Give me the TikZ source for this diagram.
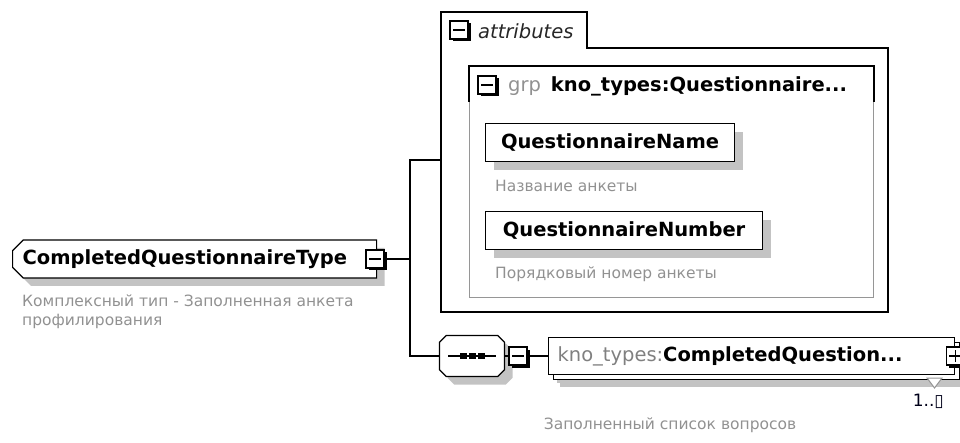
\documentclass[tikz,border=0pt]{standalone}
\usepackage{fontspec}
\setmainfont{DejaVu Sans}
\usetikzlibrary{shapes.misc,shadows,positioning}
\definecolor{nsgray}{RGB}{128,128,128}
\definecolor{descgray}{RGB}{145,145,145}
\definecolor{shadowgray}{RGB}{195,195,195}
\definecolor{boxgray}{RGB}{150,150,150}
\newcommand\namefont{\fontsize{19.5}{22}\selectfont\bfseries}
\newcommand\descfont{\fontsize{15.5}{19}\selectfont\color{descgray}}
\newcommand\minusline{[line width=1.2pt] ([xshift=3pt]path picture bounding box.west) -- ([xshift=-3pt]path picture bounding box.east)}
\newcommand\plusline{[line width=1.2pt] ([yshift=3pt]path picture bounding box.south) -- ([yshift=-3pt]path picture bounding box.north)}

\tikzset{
  elembox/.style={draw, line width=1.2pt, fill=white, font=\namefont, minimum height=38pt,
    drop shadow={shadow xshift=8pt, shadow yshift=-8pt, fill=shadowgray, opacity=1}},
  togglebox/.style={draw, line width=1.2pt, fill=white, minimum size=18pt, inner sep=0pt,
    drop shadow={shadow xshift=2.5pt, shadow yshift=-2.5pt, fill=black, opacity=1}},
  minusbox/.style={togglebox, path picture={\draw\minusline;}},
  plusbox/.style={togglebox, path picture={\draw\minusline; \draw\plusline;}},
  desc/.style={font=\descfont, anchor=west, align=left, inner sep=0pt},
  wire/.style={line width=1.2pt},
}

\begin{document}
\begin{tikzpicture}[x=1pt,y=-1pt]
  \useasboundingbox (0,0) rectangle (960,443);

  % complex type
  \node[elembox, chamfered rectangle, chamfered rectangle corners={north west,south west},
        chamfered rectangle xsep=7pt, inner xsep=2pt, minimum width=364pt, text width=344pt, anchor=west]
        (cqt) at (12,259) {CompletedQuestionnaireType};
  \node[minusbox] (cqtminus) at (375,259) {};
  \node[desc] (cqtdesc) at (22,312) {Комплексный тип - Заполненная анкета\\профилирования};

  % attributes
  \draw[line width=1.2pt] (441,312) -- (441,12) -- (587,12) -- (587,48) -- (888,48) -- (888,312) -- cycle;
  \coordinate (attrs) at (441,160);
  \node[minusbox] (attrminus) at (459,30) {};
  \node[anchor=west, font=\fontsize{19.5}{22}\selectfont\itshape, text=black!85, inner sep=0pt]
        (attrlabel) at (478,31) {attributes};

  % group
  \node[draw=boxgray, line width=1pt, minimum width=404pt, minimum height=231pt, anchor=north west]
        (grp) at (469,66) {};
  \draw[line width=1.2pt] ([yshift=-36pt]grp.north west) -- (grp.north west) -- (grp.north east) -- ([yshift=-36pt]grp.north east);
  \node[minusbox] (grpminus) at (487,85) {};
  \node[anchor=west, inner sep=0pt, font=\fontsize{19.5}{22}\selectfont] (grplabel) at (508,86)
        {\color{descgray}grp\hspace{10pt}\color{black}\bfseries kno\_types:Questionnaire...};

  \node[elembox, minimum width=249pt, anchor=north west] (qname) at (485,123) {QuestionnaireName};
  \node[desc] (qnamedesc) at (495,186) {Название анкеты};
  \node[elembox, minimum width=277pt, anchor=north west] (qnum) at (485,211) {QuestionnaireNumber};
  \node[desc] (qnumdesc) at (495,274) {Порядковый номер анкеты};

  % sequence
  \node[chamfered rectangle, chamfered rectangle xsep=8pt, draw, line width=1.2pt, fill=white,
        minimum width=65pt, minimum height=41pt,
        drop shadow={shadow xshift=8pt, shadow yshift=-8pt, fill=shadowgray, opacity=1}]
        (seq) at (472,356) {};
  \draw[line width=1.2pt] ([xshift=-24pt]seq.center) -- ([xshift=24pt]seq.center);
  \foreach \dx in {-9,0,9}
    \fill ([xshift=\dx pt]seq.center) +(-3.5pt,-3pt) rectangle +(3.5pt,3pt);
  \node[minusbox] (seqminus) at (518,356) {};

  % element list
  \node[elembox, minimum width=406pt, minimum height=37pt, text width=388pt, anchor=west,
        drop shadow={shadow xshift=11pt, shadow yshift=-12pt, fill=shadowgray, opacity=1},
        copy shadow={shadow xshift=5pt, shadow yshift=-5pt}]
        (cqlist) at (548,356) {{\color{nsgray}\mdseries kno\_types:}CompletedQuestion...};
  \node[plusbox] (cqplus) at (cqlist.east) {};
  \draw[draw=boxgray, fill=white, line width=1pt] (927,378) -- (942,378) -- (934.5,388) -- cycle;
  \node[anchor=east, inner sep=0pt, font=\fontsize{17}{20}\selectfont, text=black!90!blue]
        (cqmult) at (944,401) {1..▯};
  \node[desc, anchor=center] (cqdesc) at (670,425) {Заполненный список вопросов};

  % connectors
  \coordinate (fork) at (410,259);
  \draw[wire] (cqtminus.east) -- (fork);
  \draw[wire] (attrs) -| (fork) |- (seq.west);
  \draw[wire] (seq.east) -- (seqminus.west);
  \draw[wire] (seqminus.east) -- (cqlist.west);
\end{tikzpicture}
\end{document}
